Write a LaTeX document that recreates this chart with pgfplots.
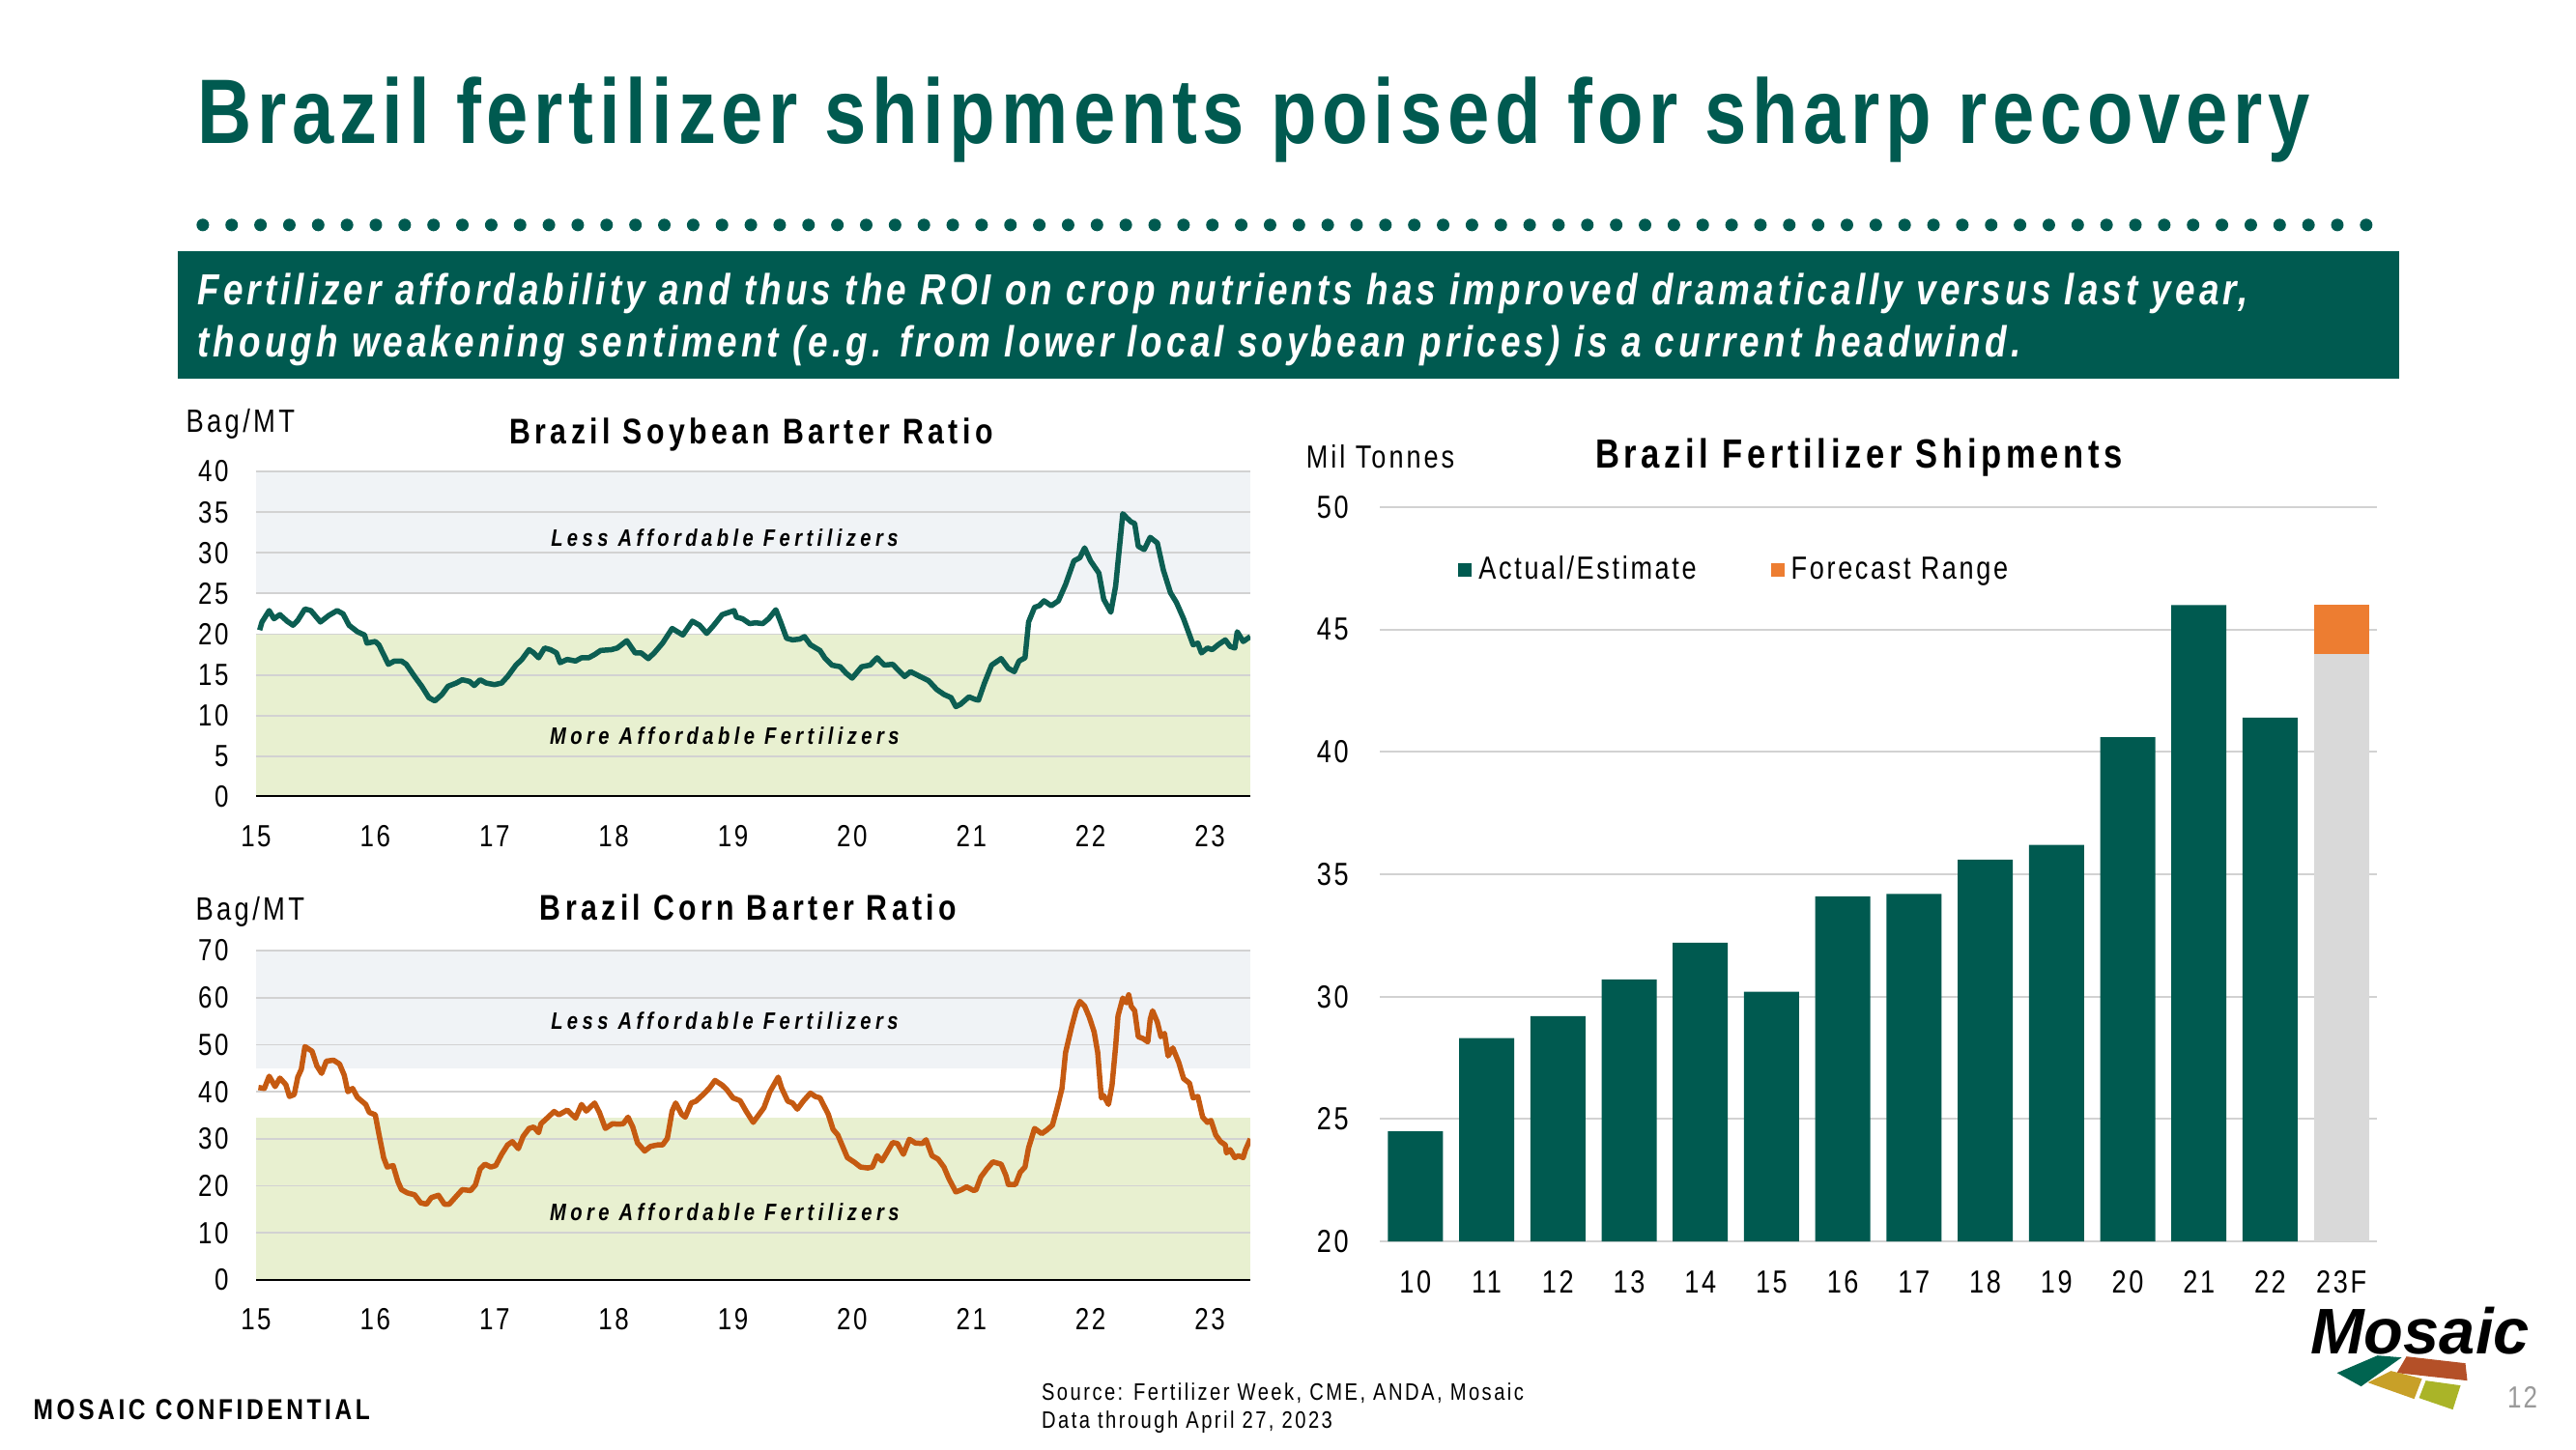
\documentclass[border=0pt]{standalone}
\usepackage{fontspec}
\setmainfont{Liberation Sans}[FakeStretch=0.82, LetterSpace=6]
\newfontfamily\logofont{Liberation Sans}
\usepackage{pgfplots}
\pgfplotsset{compat=1.18}
\definecolor{mgreen}{RGB}{0,90,80}
\definecolor{soyline}{RGB}{12,94,82}
\definecolor{cornline}{RGB}{197,90,17}
\definecolor{fcorange}{RGB}{237,125,49}
\definecolor{fcgrey}{RGB}{217,217,217}
\definecolor{bandgreen}{RGB}{232,240,208}
\definecolor{bandgrey}{RGB}{240,243,246}
\definecolor{gridgrey}{RGB}{210,210,210}
\definecolor{logogreen}{RGB}{0,100,80}
\definecolor{logobrown}{RGB}{180,80,40}
\definecolor{logogold}{RGB}{200,160,40}
\definecolor{logolime}{RGB}{170,180,40}
\newcommand{\fs}[1]{\fontsize{#1}{#1}\selectfont}
\newcommand{\ls}[1]{\addfontfeatures{LetterSpace=#1}}
\pgfplotsset{
  barter/.style={
    scale only axis, width=10.29cm,
    xmin=15, xmax=23.34, ymin=0,
    xtick={15,16,...,23},
    axis line style={draw=none},
    major tick length=0pt,
    tick style={draw=none},
    tick label style={font=\fs{9}\ls{8}},
    xticklabel style={yshift=-0.17cm},
    yticklabel style={xshift=-0.16cm},
    /pgf/number format/assume math mode=true,
  },
  gridln/.style={gridgrey, line width=0.018cm, forget plot},
  sqleg/.style={legend image code/.code={\fill[##1] (0cm,-0.07cm) rectangle (0.14cm,0.07cm);}},
}
\begin{document}
\begin{tikzpicture}
\fill[white] (0,0) rectangle (26.66,15);
\begin{scope}[x=0.01cm,y=-0.01cm,shift={(0cm,15cm)}]
% title
\node[anchor=base west, inner sep=0, text=mgreen, font=\fs{27}\bfseries] at (204,149) {Brazil fertilizer shipments poised for sharp recovery};
\foreach \i in {0,...,75} \fill[mgreen] ({210+\i*29.87},233) circle[radius=0.065cm];
\fill[mgreen] (184,260) rectangle (2484,392);
\node[anchor=base west, inner sep=0, text=white, font=\fs{12.8}\bfseries\itshape\ls{9}] at (204,316) {Fertilizer affordability and thus the ROI on crop nutrients has improved dramatically versus last year,};
\node[anchor=base west, inner sep=0, text=white, font=\fs{12.8}\bfseries\itshape\ls{9}] at (204,370) {though weakening sentiment (e.g. from lower local soybean prices) is a current headwind.};
% chart titles
\node[anchor=base, inner sep=0, font=\fs{10.5}\bfseries\ls{12}] at (778,460) {Brazil Soybean Barter Ratio};
\node[anchor=base west, inner sep=0, font=\fs{9.5}\ls{10}] at (192,448) {Bag/MT};
\node[anchor=base, inner sep=0, font=\fs{10.5}\bfseries\ls{12}] at (775,953) {Brazil Corn Barter Ratio};
\node[anchor=base west, inner sep=0, font=\fs{9.5}\ls{10}] at (202,953) {Bag/MT};
\node[anchor=base, inner sep=0, font=\fs{12}\bfseries\ls{11}] at (1925,485) {Brazil Fertilizer Shipments};
\node[anchor=base west, inner sep=0, font=\fs{9.4}\ls{9}] at (1352,485) {Mil Tonnes};
% footer
\node[anchor=base west, inner sep=0, font=\fs{8.5}\bfseries\ls{12}] at (34,1470) {MOSAIC CONFIDENTIAL};
\node[anchor=base west, inner sep=0, font=\fs{7}\ls{10}] at (1078,1450) {Source: Fertilizer Week, CME, ANDA, Mosaic};
\node[anchor=base west, inner sep=0, font=\fs{7}\ls{10}] at (1078,1479) {Data through April 27, 2023};
\node[anchor=base west, inner sep=0, font=\fs{9}, text=gray!80] at (2596,1458) {12};
% logo
\node[anchor=base west, inner sep=0, font=\logofont\fs{19}\bfseries\itshape] at (2392,1402) {Mosaic};
\fill[logogreen] (2462,1404) -- (2487,1406) -- (2445,1436) -- (2420,1422) -- cycle;
\fill[logobrown] (2492,1405) -- (2553,1412) -- (2555,1430) -- (2482,1422) -- cycle;
\fill[logogold] (2476,1420) -- (2508,1428) -- (2500,1449) -- (2452,1432) -- cycle;
\fill[logolime] (2512,1430) -- (2548,1435) -- (2540,1460) -- (2505,1448) -- cycle;
\end{scope}

% ---------- Shipments
\begin{axis}[at={(14.28cm,2.15cm)}, anchor=south west,
  scale only axis, width=10.32cm, height=7.60cm,
  ymin=20, ymax=50, ytick={20,25,...,50},
  xmin=-0.5, xmax=13.5, xtick={0,...,13},
  xticklabels={10,11,12,13,14,15,16,17,18,19,20,21,22,23F},
  ybar, bar width=0.57cm, bar shift=0pt,
  axis line style={draw=none}, major tick length=0pt,
  ymajorgrids, grid style={gridgrey, line width=0.018cm},
  tick label style={font=\fs{9.4}\ls{8}},
  xticklabel style={yshift=-0.18cm},
  yticklabel style={xshift=-0.2cm},
  /pgf/number format/assume math mode=true,
  legend columns=2,
  legend style={draw=none, fill=none, at={(0.068,0.914)}, anchor=west, font=\fs{9.4}\ls{8},
    /tikz/every even column/.append style={column sep=0.7cm}},
]
\addplot[fill=mgreen, draw=none, sqleg] coordinates {(0,24.5) (1,28.3) (2,29.2) (3,30.7) (4,32.2) (5,30.2) (6,34.1) (7,34.2) (8,35.6) (9,36.2) (10,40.6) (11,46.0) (12,41.4)};
\addlegendentry{Actual/Estimate}
\addplot[fill=fcorange, draw=none, sqleg] coordinates {(13,46.0)};
\addlegendentry{Forecast Range}
\addplot[fill=fcgrey, draw=none, forget plot] coordinates {(13,44.0)};
\end{axis}

% ---------- Soybean
\begin{axis}[barter, at={(2.65cm,6.75cm)}, anchor=south west, height=3.37cm,
  ymax=40, ytick={0,5,...,40}]
\addplot[draw=none, fill=bandgreen, forget plot] coordinates {(15,0) (23.34,0) (23.34,20) (15,20)} -- cycle;
\addplot[draw=none, fill=bandgrey, forget plot] coordinates {(15,25) (23.34,25) (23.34,40) (15,40)} -- cycle;
\pgfplotsinvokeforeach{5,10,...,40}{\addplot[gridln] coordinates {(15,#1) (23.34,#1)};}
\addplot[black, line width=0.03cm, forget plot] coordinates {(15,0) (23.34,0)};
\addplot[soyline, line width=0.055cm, line join=round] coordinates {
(15.03,20.5) (15.05,21.5) (15.11,22.9) (15.15,21.9) (15.20,22.4) (15.26,21.6) (15.31,21.1) (15.35,21.7) (15.41,23.1) (15.46,22.9) (15.54,21.5) (15.61,22.3) (15.68,22.9) (15.73,22.5) (15.78,21.1) (15.85,20.3) (15.91,19.9) (15.93,18.9) (16.00,19.1) (16.03,18.7) (16.07,17.5) (16.11,16.3) (16.16,16.7) (16.22,16.7) (16.26,16.3) (16.33,14.8) (16.39,13.6) (16.45,12.2) (16.50,11.8) (16.56,12.6) (16.61,13.6) (16.68,14.0) (16.73,14.4) (16.79,14.2) (16.83,13.7) (16.88,14.4) (16.93,14.0) (17.00,13.8) (17.06,14.0) (17.11,14.8) (17.18,16.2) (17.23,16.9) (17.29,18.1) (17.33,17.7) (17.37,17.1) (17.42,18.3) (17.47,18.1) (17.52,17.7) (17.55,16.5) (17.61,16.9) (17.68,16.7) (17.73,17.1) (17.79,17.1) (17.84,17.5)
(17.89,18.0) (17.98,18.1) (18.03,18.3) (18.11,19.2) (18.18,17.7) (18.23,17.7) (18.29,17.0) (18.34,17.7) (18.41,18.9) (18.49,20.7) (18.58,19.9) (18.66,21.6) (18.72,21.1) (18.78,20.1) (18.84,21.1) (18.91,22.4) (19.01,22.9) (19.03,22.1) (19.08,21.9) (19.14,21.3) (19.19,21.4) (19.25,21.3) (19.30,21.9) (19.36,23.0) (19.40,21.5) (19.45,19.5) (19.50,19.3) (19.56,19.4) (19.60,19.7) (19.65,18.7) (19.73,18.0) (19.77,17.1) (19.83,16.2) (19.90,16.0) (19.95,15.2) (20.00,14.6) (20.08,16.0) (20.15,16.2) (20.21,17.1) (20.27,16.2) (20.34,16.3) (20.44,14.8) (20.49,15.4) (20.57,14.8) (20.64,14.3)
(20.71,13.2) (20.77,12.6) (20.83,12.2) (20.87,11.1) (20.91,11.4) (20.98,12.3) (21.03,12.0) (21.06,11.9) (21.11,14.0) (21.17,16.2) (21.25,17.0) (21.31,15.8) (21.36,15.4) (21.40,16.7) (21.45,17.1) (21.48,21.5) (21.53,23.3) (21.57,23.5) (21.61,24.1) (21.67,23.5) (21.73,24.1) (21.79,26.1) (21.86,29.0) (21.91,29.4) (21.95,30.6) (22.00,29.0) (22.07,27.5) (22.11,24.3) (22.17,22.7) (22.21,25.9) (22.25,31.8) (22.27,34.8) (22.31,34.2) (22.34,33.8) (22.37,33.6) (22.40,30.8) (22.45,30.4) (22.50,31.9) (22.56,31.2) (22.61,27.9) (22.67,25.1) (22.72,23.9) (22.78,21.9) (22.83,19.9) (22.86,18.7) (22.90,18.9) (22.93,17.7) (22.98,18.3) (23.02,18.1) (23.07,18.7) (23.13,19.3) (23.17,18.5) (23.21,18.3) (23.23,20.3) (23.28,19.1) (23.34,19.7)
};
\node[font=\fs{7}\bfseries\itshape\ls{18}] at (axis cs:18.93,31.8) {Less Affordable Fertilizers};
\node[font=\fs{7}\bfseries\itshape\ls{18}] at (axis cs:18.93,7.5) {More Affordable Fertilizers};
\end{axis}

% ---------- Corn
\begin{axis}[barter, at={(2.65cm,1.75cm)}, anchor=south west, height=3.41cm,
  ymax=70, ytick={0,10,...,70}]
\addplot[draw=none, fill=bandgreen, forget plot] coordinates {(15,0) (23.34,0) (23.34,34.5) (15,34.5)} -- cycle;
\addplot[draw=none, fill=bandgrey, forget plot] coordinates {(15,45) (23.34,45) (23.34,70) (15,70)} -- cycle;
\pgfplotsinvokeforeach{10,20,...,70}{\addplot[gridln] coordinates {(15,#1) (23.34,#1)};}
\addplot[black, line width=0.03cm, forget plot] coordinates {(15,0) (23.34,0)};
\addplot[cornline, line width=0.055cm, line join=round] coordinates {
(15.02,40.9) (15.07,40.7) (15.11,43.3) (15.16,41.1) (15.20,42.9) (15.25,41.5) (15.28,39.0) (15.32,39.4) (15.35,43.1) (15.38,44.8) (15.41,49.6) (15.47,48.6) (15.51,45.5) (15.55,43.9) (15.59,46.5) (15.65,46.7) (15.70,45.9) (15.74,43.5) (15.77,40.0) (15.81,40.7) (15.85,38.8) (15.92,37.3) (15.95,35.6) (16.00,35.1) (16.03,31.1) (16.07,26.0) (16.10,24.0) (16.15,24.3) (16.19,20.9) (16.22,19.2) (16.27,18.5) (16.33,18.1) (16.38,16.4) (16.43,16.1) (16.47,17.5) (16.53,18.0) (16.58,16.1) (16.62,16.1) (16.68,17.8) (16.73,19.2) (16.80,19.0) (16.84,20.2) (16.88,23.6) (16.92,24.6) (16.97,24.0) (17.01,24.3) (17.06,26.7) (17.11,28.7) (17.15,29.4) (17.20,27.9) (17.24,30.5) (17.29,32.2) (17.33,32.5) (17.37,31.3) (17.39,33.2) (17.45,34.6) (17.50,35.8) (17.54,35.1) (17.61,36.1) (17.68,34.4) (17.73,37.3) (17.77,35.9) (17.84,37.6)
(17.88,35.6) (17.93,32.2) (17.99,33.2) (18.04,33.1) (18.08,33.2) (18.12,34.6) (18.16,32.5) (18.20,29.1) (18.26,27.4) (18.31,28.4) (18.37,28.7) (18.41,28.7) (18.45,30.1) (18.49,35.9) (18.52,37.6) (18.57,35.2) (18.60,34.6) (18.65,37.6) (18.69,38.0) (18.75,39.4) (18.80,40.7) (18.85,42.4) (18.91,41.4) (18.95,40.4) (19.00,38.7) (19.06,38.1) (19.11,35.9) (19.17,33.5) (19.22,35.2) (19.26,36.6) (19.31,40.0) (19.38,43.1) (19.41,40.7) (19.46,38.0) (19.50,37.6) (19.54,36.3) (19.59,38.0) (19.65,39.7) (19.69,39.0) (19.73,38.7) (19.80,35.2) (19.84,32.0) (19.88,30.8) (19.92,28.4) (19.96,26.0) (20.02,25.0) (20.07,24.0) (20.13,23.8) (20.17,24.0) (20.21,26.4) (20.25,25.3) (20.29,27.0) (20.34,29.2) (20.38,29.0) (20.43,26.7) (20.48,29.9) (20.53,29.1) (20.59,29.0) (20.62,29.8)
(20.67,26.4) (20.72,25.7) (20.77,24.0) (20.81,21.6) (20.87,18.7) (20.92,19.2) (20.96,19.8) (21.02,19.0) (21.04,19.2) (21.08,21.9) (21.13,23.6) (21.18,25.1) (21.25,24.6) (21.29,22.2) (21.31,20.3) (21.37,20.3) (21.41,22.9) (21.45,24.0) (21.48,28.1) (21.53,32.2) (21.59,31.1) (21.63,31.8) (21.68,32.9) (21.72,36.6) (21.76,40.7) (21.79,48.3) (21.84,53.7) (21.88,57.5) (21.91,59.2) (21.95,58.2) (21.99,55.8) (22.03,52.7) (22.06,48.3) (22.09,38.7) (22.11,39.2) (22.15,37.3) (22.18,41.4) (22.21,49.6) (22.23,56.1) (22.27,59.9) (22.30,58.9) (22.32,60.6) (22.34,58.2) (22.37,57.2) (22.40,51.7) (22.44,51.3) (22.48,50.6) (22.50,55.4) (22.52,57.2) (22.56,54.8) (22.59,51.7) (22.62,52.4) (22.65,47.6) (22.69,49.3) (22.74,46.2) (22.78,42.8) (22.83,41.8) (22.86,38.7) (22.90,39.0) (22.94,34.6) (22.98,33.5) (23.01,33.9) (23.05,30.8) (23.09,29.4) (23.13,28.7) (23.14,27.0) (23.17,27.7) (23.21,26.0) (23.24,26.4) (23.28,26.0) (23.30,27.7) (23.34,30.0)
};
\node[font=\fs{7}\bfseries\itshape\ls{18}] at (axis cs:18.93,55) {Less Affordable Fertilizers};
\node[font=\fs{7}\bfseries\itshape\ls{18}] at (axis cs:18.93,14.4) {More Affordable Fertilizers};
\end{axis}
\end{tikzpicture}
\end{document}
